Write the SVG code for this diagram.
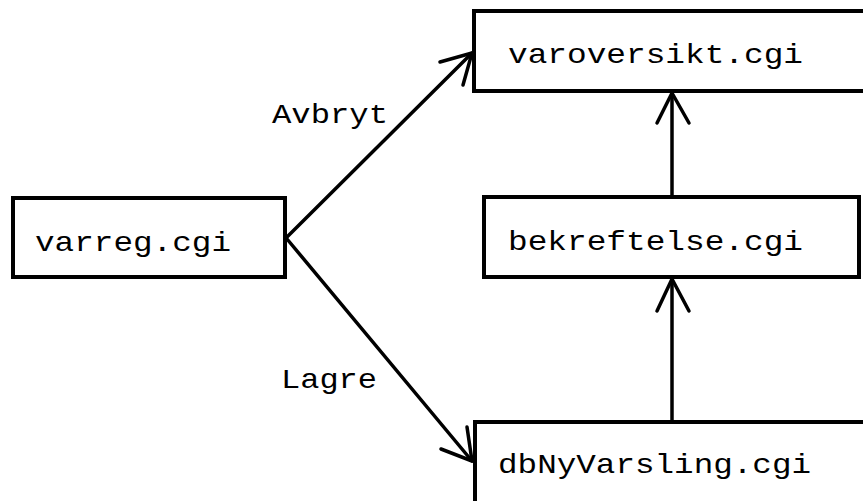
<svg xmlns="http://www.w3.org/2000/svg" width="863" height="501" viewBox="0 0 863 501">
  <style>
    .box { fill: #ffffff; stroke: #000000; stroke-width: 4; }
    .lbl { font-family: "Liberation Mono", "Courier New", monospace; font-size: 28px; fill: #000000; }
    .edge { fill: none; stroke: #000000; stroke-width: 3.5; stroke-linecap: round; stroke-linejoin: round; }
  </style>
  <rect width="863" height="501" fill="#ffffff"/>

  <g id="varreg">
    <rect class="box" x="13" y="198" width="272" height="79"/>
    <text class="lbl" x="35" y="251" textLength="196" lengthAdjust="spacingAndGlyphs">varreg.cgi</text>
  </g>

  <g id="varoversikt">
    <rect class="box" x="474" y="11" width="420" height="80"/>
    <text class="lbl" x="508" y="63" textLength="295" lengthAdjust="spacingAndGlyphs">varoversikt.cgi</text>
  </g>

  <g id="bekreftelse">
    <rect class="box" x="484" y="197" width="375" height="80"/>
    <text class="lbl" x="508" y="250" textLength="295" lengthAdjust="spacingAndGlyphs">bekreftelse.cgi</text>
  </g>

  <g id="dbNyVarsling">
    <rect class="box" x="475" y="422" width="420" height="120"/>
    <text class="lbl" x="498" y="473" textLength="313" lengthAdjust="spacingAndGlyphs">dbNyVarsling.cgi</text>
  </g>

  <g id="connectors">
    <!-- varreg -> varoversikt (Avbryt) -->
    <path class="edge" d="M287 237 L472 53"/>
    <path class="edge" d="M440 62 L472 53 L463 85"/>
    <text class="lbl" x="272" y="123" textLength="116" lengthAdjust="spacingAndGlyphs">Avbryt</text>

    <!-- varreg -> dbNyVarsling (Lagre) -->
    <path class="edge" d="M287 239 L472 461"/>
    <path class="edge" d="M441 449 L472 461 L467 427"/>
    <text class="lbl" x="281" y="388" textLength="96" lengthAdjust="spacingAndGlyphs">Lagre</text>

    <!-- bekreftelse -> varoversikt -->
    <path class="edge" d="M672 196 L672 93"/>
    <path class="edge" d="M657 123 L672 93 L689 123"/>

    <!-- dbNyVarsling -> bekreftelse -->
    <path class="edge" d="M672 421 L672 279"/>
    <path class="edge" d="M657 311 L672 279 L689 311"/>
  </g>
</svg>
